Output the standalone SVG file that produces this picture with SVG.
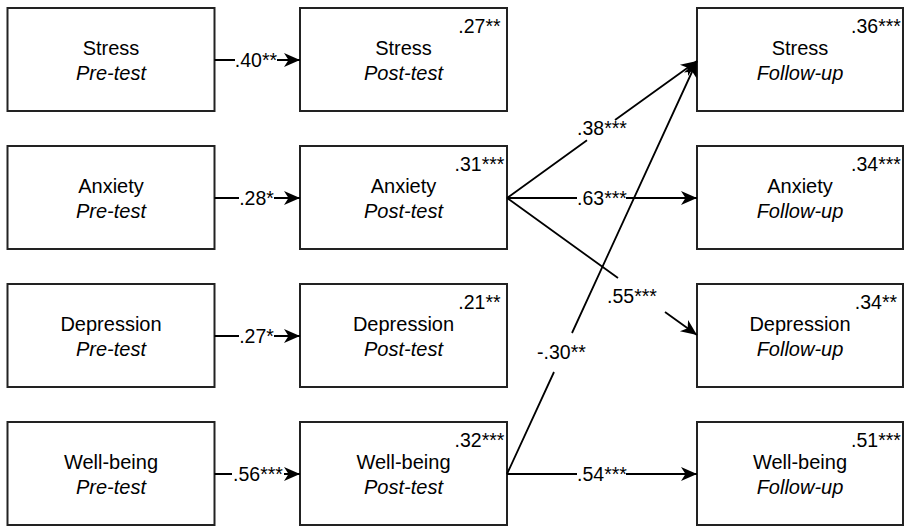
<svg xmlns="http://www.w3.org/2000/svg" width="904" height="526" viewBox="0 0 904 526">
<style>
  .box { fill: #fff; stroke: #222; stroke-width: 2; }
  .t { font-family: "Liberation Sans", Arial, Helvetica, sans-serif; fill: #000; }
  .main { font-size: 20px; text-anchor: middle; }
  .sub { font-size: 20px; text-anchor: middle; font-style: italic; }
  .r2 { font-size: 19.5px; text-anchor: middle; }
  .el { font-size: 19.5px; text-anchor: middle; }
  .conn { fill: none; stroke: #000; stroke-width: 1.8; }
</style>
<defs>
  <marker id="arr" viewBox="-17 -8 18 16" refX="0" refY="0" markerWidth="18" markerHeight="16" markerUnits="userSpaceOnUse" orient="auto">
    <path d="M0,0 L-16,-7 L-11.5,0 L-16,7 Z" fill="#000"/>
  </marker>
</defs>
<rect width="904" height="526" fill="#fff"/>

<!-- Pre-test nodes -->
<g id="stress-pre"><rect class="box" x="7.5" y="8" width="207" height="103"/>
  <text class="t main" x="111" y="54.5">Stress</text><text class="t sub" x="111" y="80">Pre-test</text></g>
<g id="anxiety-pre"><rect class="box" x="7.5" y="146" width="207" height="103"/>
  <text class="t main" x="111" y="192.5">Anxiety</text><text class="t sub" x="111" y="218">Pre-test</text></g>
<g id="depression-pre"><rect class="box" x="7.5" y="284" width="207" height="103"/>
  <text class="t main" x="111" y="330.5">Depression</text><text class="t sub" x="111" y="356">Pre-test</text></g>
<g id="wellbeing-pre"><rect class="box" x="7.5" y="422" width="207" height="103"/>
  <text class="t main" x="111" y="468.5">Well-being</text><text class="t sub" x="111" y="494">Pre-test</text></g>

<!-- Post-test nodes -->
<g id="stress-post"><rect class="box" x="300" y="8" width="207" height="103"/>
  <text class="t main" x="403.5" y="54.5">Stress</text><text class="t sub" x="403.5" y="80">Post-test</text>
  <text class="t r2" x="479.5" y="33">.27**</text></g>
<g id="anxiety-post"><rect class="box" x="300" y="146" width="207" height="103"/>
  <text class="t main" x="403.5" y="192.5">Anxiety</text><text class="t sub" x="403.5" y="218">Post-test</text>
  <text class="t r2" x="479.5" y="171">.31***</text></g>
<g id="depression-post"><rect class="box" x="300" y="284" width="207" height="103"/>
  <text class="t main" x="403.5" y="330.5">Depression</text><text class="t sub" x="403.5" y="356">Post-test</text>
  <text class="t r2" x="479.5" y="309">.21**</text></g>
<g id="wellbeing-post"><rect class="box" x="300" y="422" width="207" height="103"/>
  <text class="t main" x="403.5" y="468.5">Well-being</text><text class="t sub" x="403.5" y="494">Post-test</text>
  <text class="t r2" x="479.5" y="447">.32***</text></g>

<!-- Follow-up nodes -->
<g id="stress-follow"><rect class="box" x="697" y="8" width="206" height="103"/>
  <text class="t main" x="800" y="54.5">Stress</text><text class="t sub" x="800" y="80">Follow-up</text>
  <text class="t r2" x="876" y="33">.36***</text></g>
<g id="anxiety-follow"><rect class="box" x="697" y="146" width="206" height="103"/>
  <text class="t main" x="800" y="192.5">Anxiety</text><text class="t sub" x="800" y="218">Follow-up</text>
  <text class="t r2" x="876" y="171">.34***</text></g>
<g id="depression-follow"><rect class="box" x="697" y="284" width="206" height="103"/>
  <text class="t main" x="800" y="330.5">Depression</text><text class="t sub" x="800" y="356">Follow-up</text>
  <text class="t r2" x="876" y="309">.34**</text></g>
<g id="wellbeing-follow"><rect class="box" x="697" y="422" width="206" height="103"/>
  <text class="t main" x="800" y="468.5">Well-being</text><text class="t sub" x="800" y="494">Follow-up</text>
  <text class="t r2" x="876" y="447">.51***</text></g>

<!-- Connectors -->
<g id="connectors">
  <path class="conn" d="M214.5,60 L235,60 M277,60 L300,60" marker-end="url(#arr)"/>
  <path class="conn" d="M214.5,198 L239,198 M274,198 L300,198" marker-end="url(#arr)"/>
  <path class="conn" d="M214.5,336 L239,336 M274,336 L300,336" marker-end="url(#arr)"/>
  <path class="conn" d="M214.5,474 L232,474 M284,474 L300,474" marker-end="url(#arr)"/>

  <path class="conn" d="M507,198 L587,140.3 M615,120.1 L697,61" marker-end="url(#arr)"/>
  <path class="conn" d="M507,198 L577,198 M626,198 L697,198" marker-end="url(#arr)"/>
  <path class="conn" d="M507,198 L618,278 M665,312 L697,335" marker-end="url(#arr)"/>
  <path class="conn" d="M507,474 L554,372 M572,333 L697,61" marker-end="url(#arr)"/>
  <path class="conn" d="M507,474 L577,474 M626,474 L697,474" marker-end="url(#arr)"/>

  <text class="t el" x="256" y="66.5">.40**</text>
  <text class="t el" x="256.5" y="204.5">.28*</text>
  <text class="t el" x="256.5" y="342.5">.27*</text>
  <text class="t el" x="258" y="480.5">.56***</text>
  <text class="t el" x="602" y="135">.38***</text>
  <text class="t el" x="602" y="204.5">.63***</text>
  <text class="t el" x="632" y="303">.55***</text>
  <text class="t el" x="561.5" y="359">-.30**</text>
  <text class="t el" x="602" y="480.5">.54***</text>
</g>
</svg>
